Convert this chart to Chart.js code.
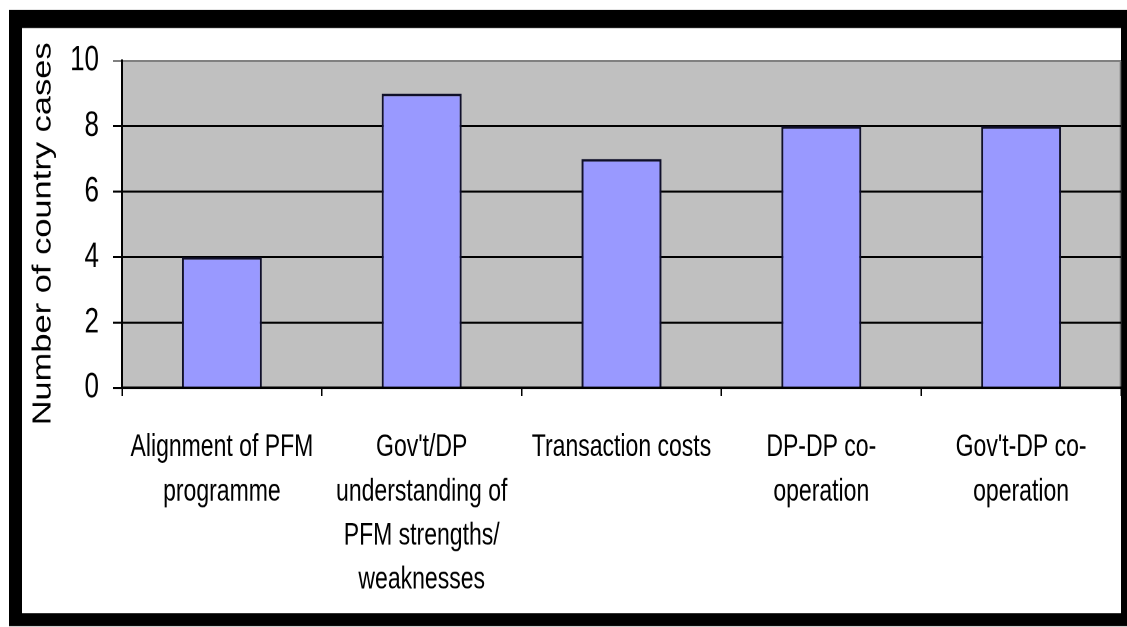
<!DOCTYPE html>
<html>
<head>
<meta charset="utf-8">
<script src="https://cdn.jsdelivr.net/npm/chart.js@4"></script>
<style>
  html, body { margin: 0; padding: 0; background: #fff; overflow: hidden; }
  #wrap { width: 1127px; height: 627px; overflow: hidden; }
  /* the chart is drawn short and stretched tall, like the old export */
  #stage { width: 1127px; height: 464px; transform: scaleY(1.3513); transform-origin: 0 0; }
</style>
</head>
<body>
<div id="wrap"><div id="stage"><canvas id="casesChart" width="1127" height="464"></canvas></div></div>
<script>
var categories = [
  ["Alignment of PFM", "programme"],
  ["Gov't/DP", "understanding of", "PFM strengths/", "weaknesses"],
  ["Transaction costs"],
  ["DP-DP co-", "operation"],
  ["Gov't-DP co-", "operation"]
];
var caseCounts = [4, 9, 7, 8, 8];
var yTicks = [0, 2, 4, 6, 8, 10];

var FONT = "'Liberation Sans', Arial, sans-serif";

// white page, black frame and grey plot background
var framePlugin = {
  id: "frame",
  beforeDraw: function(chart) {
    var ctx = chart.ctx, a = chart.chartArea;
    ctx.save();
    ctx.fillStyle = "#ffffff";
    ctx.fillRect(0, 0, chart.width, chart.height);
    ctx.fillStyle = "#000000";
    ctx.fillRect(9, 7.4, 1118, 456);
    ctx.fillStyle = "#ffffff";
    ctx.fillRect(22, 20.7, 1099, 433);
    ctx.fillStyle = "#c0c0c0";
    ctx.fillRect(a.left, a.top, a.right - a.left, a.bottom - a.top);
    ctx.strokeStyle = "#707070";
    ctx.lineWidth = 1.5;
    ctx.beginPath();
    ctx.moveTo(a.right - 0.5, a.top);
    ctx.lineTo(a.right - 0.5, a.bottom);
    ctx.stroke();
    ctx.restore();
  }
};

new Chart(document.getElementById("casesChart"), {
  type: "bar",
  data: {
    labels: categories,
    datasets: [{
      label: "Number of country cases",
      data: caseCounts,
      backgroundColor: "#9999ff",
      borderColor: "#10102a",
      borderWidth: 2,
      borderSkipped: "bottom",
      categoryPercentage: 1.0,
      barPercentage: 0.4
    }]
  },
  options: {
    responsive: false,
    animation: false,
    devicePixelRatio: 2,
    layout: { padding: { left: 22, top: 45, right: 6, bottom: 0 } },
    plugins: {
      legend: { display: false },
      tooltip: { enabled: false }
    },
    scales: {
      x: {
        afterFit: function(scale) { scale.height = 177; },
        grid: {
          offset: true,
          drawOnChartArea: false,
          color: "#000000",
          lineWidth: 1.5,
          tickLength: 6
        },
        border: { display: true, color: "#000000", width: 2 },
        ticks: {
          color: "#000000",
          padding: 22,
          maxRotation: 0,
          autoSkip: false,
          font: { family: FONT, size: 23, lineHeight: 1.42 }
        }
      },
      y: {
        min: 0,
        max: 10,
        afterFit: function(scale) { scale.width = 100; },
        afterBuildTicks: function(scale) {
          scale.ticks = yTicks.map(function(v) { return { value: v }; });
        },
        grid: {
          color: function(c) { return c.tick && c.tick.value === 10 ? "#808080" : "#000000"; },
          lineWidth: 1.5,
          tickLength: 9
        },
        border: { display: true, color: "#000000", width: 2 },
        ticks: {
          color: "#000000",
          padding: 14,
          font: { family: FONT, size: 26 }
        },
        title: {
          display: true,
          // trailing spaces nudge the rotated title down a little
          text: "Number of country cases  ",
          color: "#000000",
          padding: { top: 6, bottom: 0 },
          font: { family: FONT, size: 25.5, lineHeight: 1.2 }
        }
      }
    }
  },
  plugins: [framePlugin]
});
</script>
</body>
</html>
